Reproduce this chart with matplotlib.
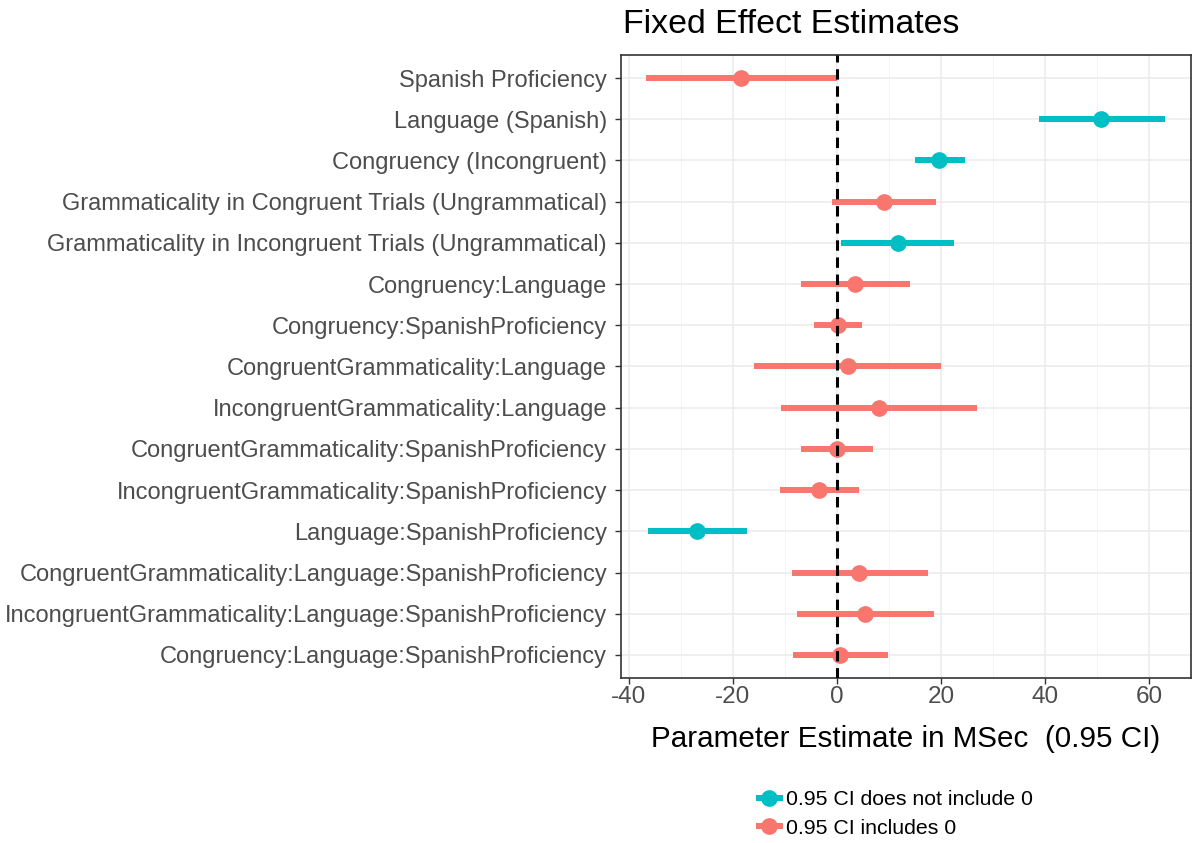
import matplotlib
matplotlib.use("Agg")
import matplotlib.pyplot as plt
from matplotlib.lines import Line2D

terms = [
    "Spanish Proficiency",
    "Language (Spanish)",
    "Congruency (Incongruent)",
    "Grammaticality in Congruent Trials (Ungrammatical)",
    "Grammaticality in Incongruent Trials (Ungrammatical)",
    "Congruency:Language",
    "Congruency:SpanishProficiency",
    "CongruentGrammaticality:Language",
    "IncongruentGrammaticality:Language",
    "CongruentGrammaticality:SpanishProficiency",
    "IncongruentGrammaticality:SpanishProficiency",
    "Language:SpanishProficiency",
    "CongruentGrammaticality:Language:SpanishProficiency",
    "IncongruentGrammaticality:Language:SpanishProficiency",
    "Congruency:Language:SpanishProficiency",
]
estimate = [-18.4, 50.8, 19.7, 9.1, 11.8, 3.5, 0.2, 2.2, 8.1, 0.0, -3.4, -26.9, 4.3, 5.5, 0.7]
ci_low = [-36.6, 38.8, 15.1, -0.9, 0.8, -6.8, -4.4, -15.9, -10.8, -6.9, -11.0, -36.3, -8.6, -7.7, -8.4]
ci_high = [0.0, 63.1, 24.6, 19.0, 22.6, 14.1, 4.8, 20.1, 27.0, 7.0, 4.3, -17.2, 17.5, 18.7, 9.8]
excludes_zero = [False, True, True, False, True, False, False, False, False, False, False, True, False, False, False]

x_ticks = [-40, -20, 0, 20, 40, 60]
minor_ticks = [-30, -10, 10, 30, 50]

TEAL = "#00BFC4"
SALMON = "#F8766D"
FONT = "Liberation Sans"

plt.rcParams["font.family"] = [FONT, "DejaVu Sans"]

fig = plt.figure(figsize=(11.95, 8.43), dpi=100)
ax = fig.add_axes([621 / 1195, 1 - 678 / 843, 570 / 1195, 623 / 843])

n = len(terms)
ypos = [n - i for i in range(n)]

for y, e, lo, hi, sig in zip(ypos, estimate, ci_low, ci_high, excludes_zero):
    c = TEAL if sig else SALMON
    ax.plot([lo, hi], [y, y], color=c, lw=4.3, solid_capstyle="butt", zorder=3)
    ax.plot([e], [y], "o", color=c, ms=11, zorder=4)

ax.axvline(0, color="black", lw=2.2, ls=(0, (3.4, 2.2)), zorder=5)

ax.set_xlim(-41.5, 68.1)
ax.set_ylim(0.44, n + 0.56)
ax.set_yticks(ypos)
ax.set_yticklabels(terms)
ax.set_xticks(x_ticks)
ax.set_xticklabels([str(t) for t in x_ticks])
ax.set_xticks(minor_ticks, minor=True)
ax.tick_params(axis="x", which="minor", length=0)

ax.grid(True, which="major", color="#EBEBEB", lw=1.1, zorder=0)
ax.grid(True, which="minor", axis="x", color="#F2F2F2", lw=0.6, zorder=0)
ax.set_axisbelow(True)

for s in ax.spines.values():
    s.set_color("#333333")
    s.set_linewidth(1.2)

ax.tick_params(axis="both", which="major", colors="#333333", length=4, width=1,
               labelcolor="#4D4D4D")
ax.tick_params(axis="y", which="major", labelsize=17.0, pad=6)
ax.tick_params(axis="x", which="major", labelsize=17.5, pad=2)

ax.set_xlabel("Parameter Estimate in MSec  (0.95 CI)", fontsize=21.3, color="black", labelpad=12)
ax.set_title("Fixed Effect Estimates", fontsize=24.4, loc="left", pad=16, color="black", x=0.003)

handles = [
    Line2D([0], [0], color=TEAL, lw=4.3, marker="o", ms=11),
    Line2D([0], [0], color=SALMON, lw=4.3, marker="o", ms=11),
]
labels = ["0.95 CI does not include 0", "0.95 CI includes 0"]
fig.legend(handles, labels, loc="center left", bbox_to_anchor=(750 / 1195, 1 - 814 / 843),
           frameon=False, fontsize=15.3, handlelength=1.0, handletextpad=0.3,
           labelspacing=0.45, borderaxespad=0)

fig.savefig("out.png", dpi=100, facecolor="white")
